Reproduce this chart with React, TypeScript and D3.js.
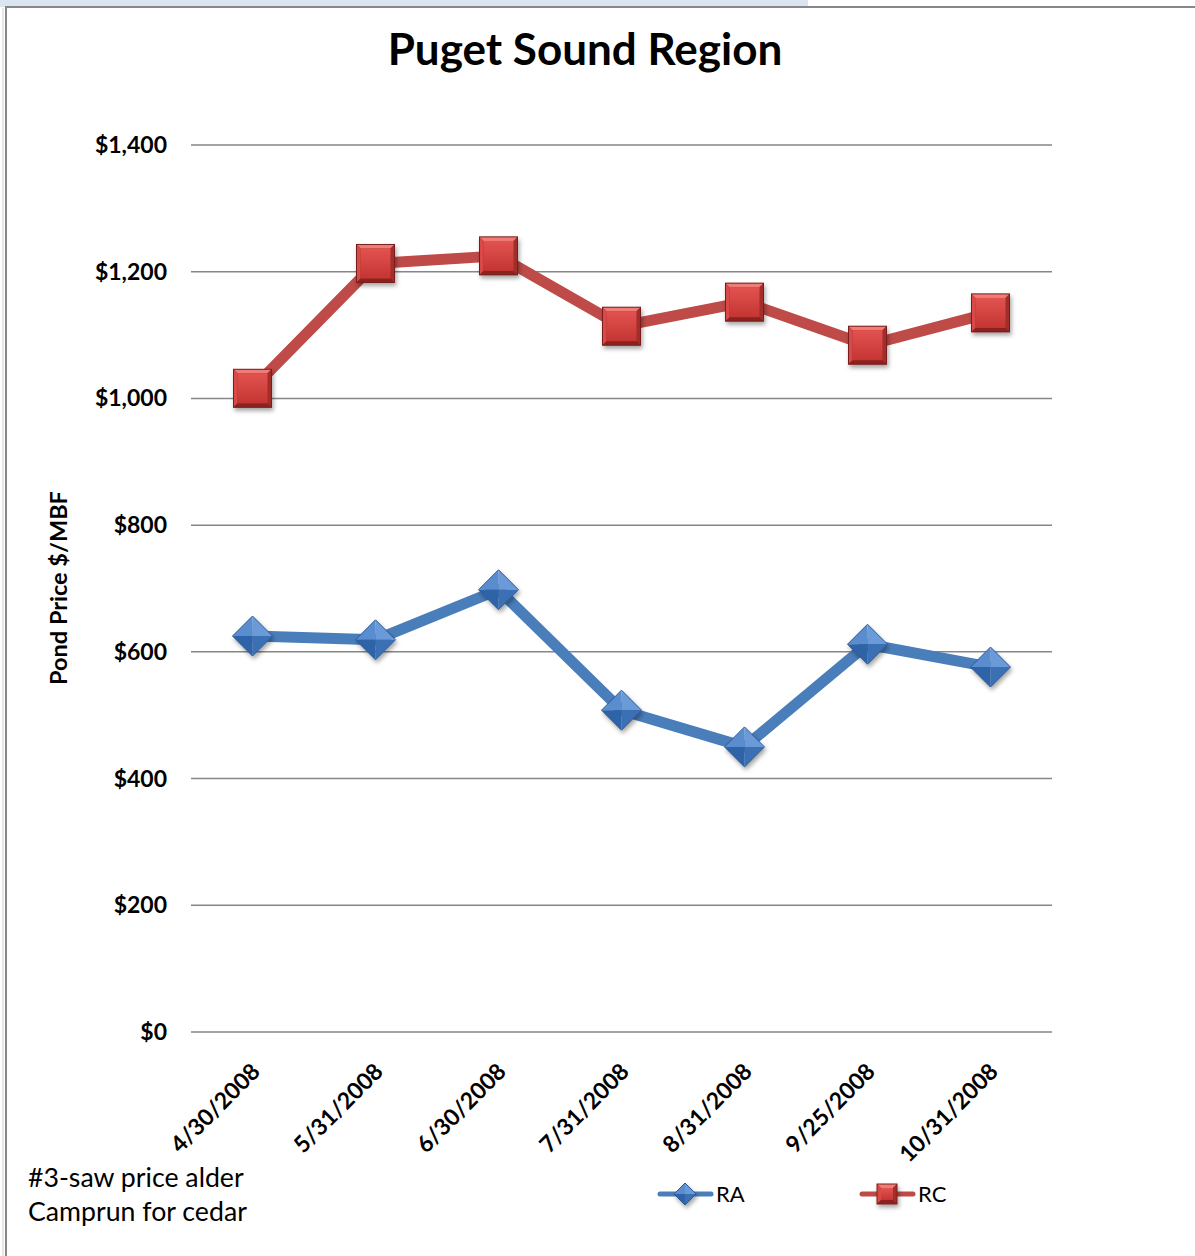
import React from "react";
import * as d3 from "d3";

const categories = ["4/30/2008", "5/31/2008", "6/30/2008", "7/31/2008", "8/31/2008", "9/25/2008", "10/31/2008"];
const raValues = [625, 619, 698, 508, 450, 612, 576];
const rcValues = [1016, 1213, 1225, 1114, 1152, 1084, 1135];
const yTicks = [0, 200, 400, 600, 800, 1000, 1200, 1400];
const seriesNames = ["RA", "RC"];
const titleText = "Puget Sound Region";
const yAxisTitle = "Pond Price $/MBF";
const noteLines = ["#3-saw price alder", "Camprun for cedar"];

const W = 1195, H = 1256;
const plot = { left: 191, right: 1052, top: 145, bottom: 1032 };
const FONT = "Lato, 'Open Sans', sans-serif";
const RA_COLOR = "#4A7EBB";
const RC_COLOR = "#BE4B48";

function Diamond({ x, y, r }: { x: number; y: number; r: number }) {
  return (
    <g transform={`translate(${x},${y})`} filter="url(#shadow)">
      <polygon points={`0,${-r} ${r},0 0,0`} fill="#6A9BD8" />
      <polygon points={`0,${-r} ${-r},0 0,0`} fill="#5A8DD0" />
      <polygon points={`${-r},0 0,${r} 0,0`} fill="#2F63A8" />
      <polygon points={`${r},0 0,${r} 0,0`} fill="#3A6FB4" />
      <polygon points={`0,${-r} ${r},0 0,${r} ${-r},0`} fill="none" stroke="#2B5A96" strokeWidth={1} />
    </g>
  );
}

function Square({ x, y, s }: { x: number; y: number; s: number }) {
  const h = s / 2;
  const b = 4;
  return (
    <g transform={`translate(${x},${y})`} filter="url(#shadow)">
      <rect x={-h} y={-h} width={s} height={s} fill="#9E2A27" />
      <polygon points={`${-h},${-h} ${h},${-h} ${h - b},${-h + b} ${-h + b},${-h + b}`} fill="#F07C78" />
      <polygon points={`${-h},${-h} ${-h + b},${-h + b} ${-h + b},${h - b} ${-h},${h}`} fill="#D84A46" />
      <polygon points={`${h},${-h} ${h},${h} ${h - b},${h - b} ${h - b},${-h + b}`} fill="#A12F2C" />
      <polygon points={`${-h},${h} ${h},${h} ${h - b},${h - b} ${-h + b},${h - b}`} fill="#8A2321" />
      <rect x={-h + b} y={-h + b} width={s - 2 * b} height={s - 2 * b} fill="url(#sqGrad)" />
      <rect x={-h} y={-h} width={s} height={s} fill="none" stroke="#7A1F1D" strokeWidth={1} />
    </g>
  );
}

export default function App() {
  const x = d3.scaleBand<string>().domain(categories).range([plot.left, plot.right]);
  const y = d3.scaleLinear().domain([0, 1400]).range([plot.bottom, plot.top]);
  const cx = (c: string) => (x(c) as number) + x.bandwidth() / 2;
  const line = d3.line<number>().x((_, i) => cx(categories[i])).y((v) => y(v));
  const fmt = (v: number) => "$" + d3.format(",")(v);

  return (
    <svg width={W} height={H} style={{ position: "absolute", left: 0, top: 0, background: "#fff" }} fontFamily={FONT}>
      <defs>
        <filter id="shadow" x="-50%" y="-50%" width="200%" height="200%">
          <feDropShadow dx={1.5} dy={3} stdDeviation={2} floodColor="#000" floodOpacity={0.35} />
        </filter>
        <linearGradient id="sqGrad" x1="0" y1="0" x2="0" y2="1">
          <stop offset="0" stopColor="#E25350" />
          <stop offset="1" stopColor="#C43532" />
        </linearGradient>
      </defs>
      <rect x={0} y={0} width={808} height={7} fill="#DBE5F1" />
      <line x1={5} y1={7} x2={W} y2={7} stroke="#878787" strokeWidth={2} />
      <line x1={6} y1={7} x2={6} y2={H} stroke="#878787" strokeWidth={2} />
      <line x1={3} y1={8} x2={3} y2={H} stroke="#E6E6E6" strokeWidth={2} />

      <text x={585} y={65} textAnchor="middle" fontSize={44} fontWeight="bold" fill="#000">{titleText}</text>

      {yTicks.map((t) => (
        <g key={t}>
          <line x1={plot.left} x2={plot.right} y1={y(t)} y2={y(t)} stroke="#868686" strokeWidth={1.5} />
          <text x={167} y={y(t)} dy="0.35em" textAnchor="end" fontSize={23} fontWeight="bold" fill="#000">{fmt(t)}</text>
        </g>
      ))}

      <text transform={`translate(67,588) rotate(-90)`} textAnchor="middle" fontSize={23.5} fontWeight="bold" fill="#000">{yAxisTitle}</text>

      {categories.map((c) => (
        <text key={c} transform={`translate(${cx(c) + 9},${1073}) rotate(-45)`} textAnchor="end" fontSize={23} fontWeight="bold" fill="#000">{c}</text>
      ))}

      <path d={line(rcValues) || ""} fill="none" stroke={RC_COLOR} strokeWidth={11} strokeLinejoin="round" />
      <path d={line(raValues) || ""} fill="none" stroke={RA_COLOR} strokeWidth={11} strokeLinejoin="round" />
      {rcValues.map((v, i) => <Square key={"rc" + i} x={cx(categories[i])} y={y(v)} s={38} />)}
      {raValues.map((v, i) => <Diamond key={"ra" + i} x={cx(categories[i])} y={y(v)} r={20} />)}

      {noteLines.map((t, i) => (
        <text key={t} x={28} y={1187 + i * 34} fontSize={26.7} fill="#000">{t}</text>
      ))}

      <g>
        <line x1={660} x2={711} y1={1194} y2={1194} stroke={RA_COLOR} strokeWidth={5} strokeLinecap="round" />
        <Diamond x={685} y={1194} r={11} />
        <text x={716} y={1194} dy="0.35em" fontSize={22} fill="#000">{seriesNames[0]}</text>
        <line x1={862} x2={913} y1={1194} y2={1194} stroke={RC_COLOR} strokeWidth={5} strokeLinecap="round" />
        <Square x={887} y={1194} s={20} />
        <text x={918} y={1194} dy="0.35em" fontSize={22} fill="#000">{seriesNames[1]}</text>
      </g>
    </svg>
  );
}
